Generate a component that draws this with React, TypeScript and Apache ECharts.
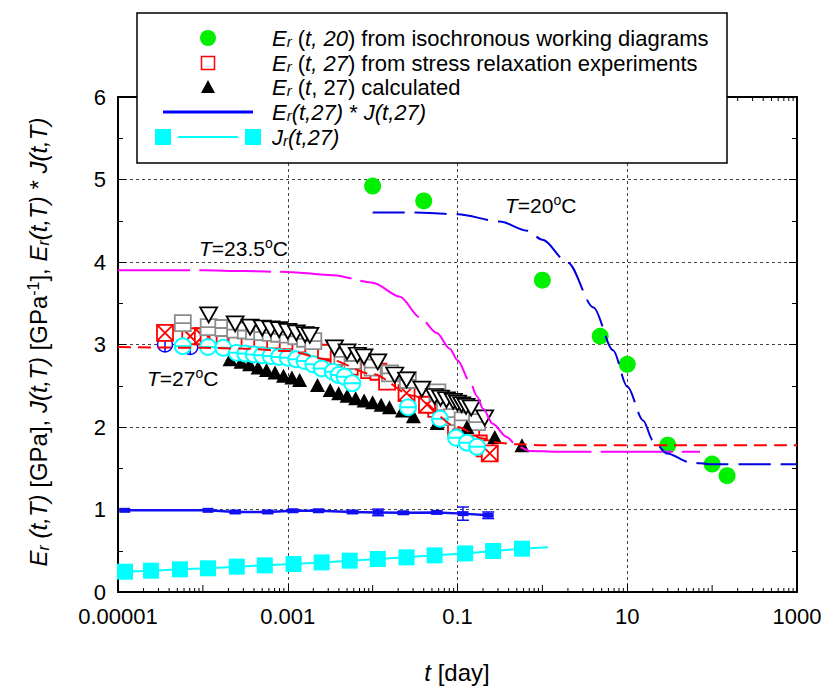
import React, { useEffect, useRef } from 'react';
import * as echarts from 'echarts';

const FF = '"Liberation Sans", Arial, Helvetica, sans-serif';

// axis tick labels
const xTickLabels = ['0.00001', '0.001', '0.1', '10', '1000'];
const yTickLabels = ['0', '1', '2', '3', '4', '5', '6'];

// E_r(t,20) from isochronous working diagrams  [t (day), GPa]
const er20Iso = [[0.01, 4.92], [0.04, 4.74], [1, 3.78], [4.8, 3.1], [10, 2.76], [30, 1.78], [100, 1.55], [150, 1.41]];

// model curves
const curve20 = [[0.01, 4.6], [0.03, 4.6], [0.1, 4.58], [0.316, 4.49], [0.66, 4.38], [1, 4.27], [2, 3.99], [4, 3.45], [6.8, 2.93], [10, 2.49], [15.4, 2.08], [20, 1.84], [29.4, 1.68], [55, 1.57], [94, 1.55], [1000, 1.55]];
const curve235 = [[1e-5, 3.9], [1e-4, 3.9], [3e-4, 3.89], [1e-3, 3.88], [3.4e-3, 3.84], [0.01, 3.75], [0.021, 3.58], [0.036, 3.33], [0.057, 3.14], [0.081, 2.95], [0.1, 2.81], [0.14, 2.55], [0.17, 2.37], [0.2, 2.22], [0.26, 2.04], [0.38, 1.88], [0.5, 1.77], [0.71, 1.71], [1.5, 1.7], [72, 1.7]];
const curve27 = [[1e-5, 2.97], [1e-4, 2.96], [3e-4, 2.95], [1e-3, 2.92], [3e-3, 2.82], [0.01, 2.64], [0.03, 2.38], [0.1, 2.0], [0.2, 1.86], [0.3, 1.81], [0.5, 1.79], [1, 1.78], [1000, 1.78]];

// stress relaxation experiments (several specimens)
const blueHidden = [[3.58e-5, 3.0], [7.1e-5, 2.97]];
const redSq = [[1.58e-4, 3.08], [2.5e-4, 3.07], [3.55e-4, 3.07], [5.0e-4, 3.06], [7.1e-4, 3.05], [1.0e-3, 3.04], [1.41e-3, 3.0], [2.0e-3, 2.95], [2.82e-3, 2.9], [3.98e-3, 2.82], [5.37e-3, 2.73], [9.1e-3, 2.69], [0.0117, 2.67], [0.0148, 2.55], [0.0562, 2.22], [0.0692, 2.18], [0.126, 1.95], [0.145, 1.88], [0.178, 1.8], [0.209, 1.74]];
const redX = [[3.58e-5, 3.14], [7.1e-5, 3.1], [1.0e-4, 3.1], [1.17e-4, 3.09], [0.0251, 2.41], [0.0437, 2.27], [0.096, 2.0], [0.24, 1.68]];
const graySq = [[5.8e-5, 3.26], [1.17e-4, 3.21], [1.74e-4, 3.2], [2.4e-4, 3.18], [3.2e-4, 3.17], [4.0e-4, 3.16], [5.0e-4, 3.15], [6.3e-4, 3.14], [7.9e-4, 3.13], [1.0e-3, 3.12], [1.26e-3, 3.1], [1.6e-3, 3.07], [2.0e-3, 3.04], [4.4e-3, 2.85], [5.8e-3, 2.8], [0.01, 2.72], [0.016, 2.65], [0.026, 2.57], [0.058, 2.42], [0.071, 2.3], [0.087, 2.12], [0.115, 2.08], [0.17, 2.06]];
const triDown = [[1.17e-4, 3.36], [2.4e-4, 3.25], [3.6e-4, 3.21], [5.0e-4, 3.2], [6.3e-4, 3.19], [7.9e-4, 3.18], [1.0e-3, 3.16], [1.26e-3, 3.14], [1.6e-3, 3.12], [1.82e-3, 3.11], [3.55e-3, 2.96], [5.0e-3, 2.91], [6.6e-3, 2.87], [7.9e-3, 2.85], [0.0115, 2.79], [0.0182, 2.63], [0.0251, 2.57], [0.038, 2.46], [0.0537, 2.37], [0.0631, 2.35], [0.0741, 2.33], [0.0891, 2.31], [0.1, 2.29], [0.112, 2.27], [0.126, 2.25], [0.145, 2.23], [0.209, 2.11]];
const cyanCirc = [[5.8e-5, 2.98], [1.15e-4, 2.97], [1.74e-4, 2.96], [2.5e-4, 2.9], [3.16e-4, 2.89], [3.98e-4, 2.88], [5.0e-4, 2.87], [6.3e-4, 2.86], [7.9e-4, 2.85], [1.0e-3, 2.84], [1.26e-3, 2.82], [1.58e-3, 2.8], [2.0e-3, 2.76], [2.51e-3, 2.71], [3.39e-3, 2.67], [3.98e-3, 2.63], [4.68e-3, 2.61], [5.75e-3, 2.53], [0.0261, 2.24], [0.0622, 2.1], [0.096, 1.87], [0.129, 1.81], [0.17, 1.76]];
// E_r(t,27) calculated
const calc27 = [[2.09e-4, 2.82], [2.82e-4, 2.79], [3.55e-4, 2.76], [4.47e-4, 2.72], [5.62e-4, 2.69], [7.08e-4, 2.66], [8.91e-4, 2.62], [1.12e-3, 2.6], [1.38e-3, 2.57], [2.24e-3, 2.51], [3.16e-3, 2.45], [3.98e-3, 2.41], [5.01e-3, 2.38], [6.31e-3, 2.35], [7.94e-3, 2.32], [0.01, 2.3], [0.0126, 2.27], [0.0158, 2.24], [0.0224, 2.2], [0.0302, 2.13], [0.0575, 2.05], [0.129, 2.0], [0.275, 1.88], [0.575, 1.78]];

// E_r(t,27) * J(t,27): [t, value, error]
const erJ = [[1.2e-5, 0.99, 0], [1.15e-4, 0.99, 0], [2.4e-4, 0.97, 0.01], [5.8e-4, 0.97, 0.01], [1.15e-3, 0.985, 0.01], [2.3e-3, 0.985, 0.01], [5.8e-3, 0.97, 0.015], [0.0116, 0.965, 0.04], [0.023, 0.96, 0.015], [0.057, 0.965, 0.015], [0.116, 0.95, 0.08], [0.23, 0.93, 0.04]];

// J_r(t,27)
const jr27 = [[1.21e-5, 0.246], [2.45e-5, 0.258], [5.37e-5, 0.275], [1.15e-4, 0.287], [2.51e-4, 0.307], [5.37e-4, 0.323], [1.17e-3, 0.339], [2.51e-3, 0.359], [5.37e-3, 0.38], [0.0115, 0.4], [0.0251, 0.42], [0.0537, 0.444], [0.123, 0.468], [0.263, 0.497], [0.575, 0.525]];
const jr27Fit = [...jr27, [1.16, 0.542]];

// minor log ticks on the time axis (decoration)
const minorFactors = [2, 3, 4, 5, 6, 7, 8, 9];
const decades = [-5, -4, -3, -2, -1, 0, 1, 2];
const oddDecades = [-4, -2, 0, 2];

const SYM_XSQ = 'path://M0 0H10V10H0Z M0 0L10 10 M10 0L0 10';
const SYM_HSQ = 'path://M0 0H10V10H0Z M0 5H10';
const SYM_SQ = 'path://M0 0H10V10H0Z';
const SYM_HCIRC = 'path://M0 5A5 5 0 1 1 10 5A5 5 0 1 1 0 5Z M0 5H10';
const SYM_VCIRC = 'path://M0 5A5 5 0 1 1 10 5A5 5 0 1 1 0 5Z M5 0V10';
const SYM_TRIDOWN = 'path://M0 0H10L5 9Z';

const C_GREEN = '#00f000';
const C_CYAN = '#00ffff';
const C_BLUE = '#0000ff';
const C_RED = '#ff0000';
const C_MAG = '#ff00ff';

const richBase = (size: number, lh: number) => ({
  n: { fontSize: size, fontFamily: FF, fill: '#000', color: '#000', lineHeight: lh },
  i: { fontSize: size, fontFamily: FF, fontStyle: 'italic', fill: '#000', color: '#000', lineHeight: lh },
  s: { fontSize: Math.round(size * 0.68), fontFamily: FF, fontStyle: 'italic', fill: '#000', color: '#000', lineHeight: Math.round(size * 0.55), verticalAlign: 'bottom' },
  p: { fontSize: Math.round(size * 0.65), fontFamily: FF, fill: '#000', color: '#000', lineHeight: Math.round(size * 0.55), verticalAlign: 'top' },
});

function buildOption() {
  const minorTicks: number[][] = [];
  decades.forEach((d) => minorFactors.forEach((k) => minorTicks.push([k * Math.pow(10, d), 4])));
  oddDecades.forEach((d) => minorTicks.push([Math.pow(10, d), 7]));

  const xAxisCommon = {
    type: 'log',
    logBase: 10,
    min: 1e-5,
    max: 1000,
    interval: 2,
    axisLine: { show: true, onZero: false, lineStyle: { color: '#000', width: 2 } },
    axisTick: { show: true, inside: true, length: 8, lineStyle: { color: '#000', width: 1 } },
  };
  const yAxisCommon = {
    type: 'value',
    min: 0,
    max: 6,
    interval: 1,
    axisLine: { show: true, onZero: false, lineStyle: { color: '#000', width: 2 } },
    axisTick: { show: true, inside: true, length: 8, lineStyle: { color: '#000', width: 1 } },
    minorTick: { show: true, splitNumber: 2, length: 5, lineStyle: { color: '#000', width: 1 } },
  };

  const lg = 208; // legend marker column
  const legendTextX = 272;
  const rows = [38, 63, 87, 112, 137];
  const lr = richBase(22, 22);
  const ar = richBase(24, 26);
  const yr = richBase(24, 26);
  const tr = richBase(21, 24);

  const sc = (extra: any) => ({ type: 'scatter', ...extra });

  return {
    animation: false,
    backgroundColor: '#fff',
    grid: { left: 118, right: 33, top: 97, bottom: 99, containLabel: false },
    xAxis: [
      {
        ...xAxisCommon,
        position: 'bottom',
        axisLabel: {
          fontSize: 22, lineHeight: 18, fontFamily: FF, color: '#000', margin: 15,
          formatter: (v: number) => xTickLabels[Math.round((Math.log10(v) + 5) / 2)] ?? '',
        },
        splitLine: { show: true, lineStyle: { color: '#444', width: 1, type: [3, 3] } },
      },
      {
        ...xAxisCommon,
        position: 'top',
        axisLabel: { show: false },
        splitLine: { show: false },
      },
    ],
    yAxis: [
      {
        ...yAxisCommon,
        position: 'left',
        axisLabel: {
          fontSize: 22, lineHeight: 18, fontFamily: FF, color: '#000', margin: 12,
          formatter: (v: number) => yTickLabels[Math.round(v)] ?? '',
        },
        splitLine: { show: true, lineStyle: { color: '#444', width: 1, type: [3, 3] } },
      },
      {
        ...yAxisCommon,
        position: 'right',
        axisLabel: { show: false },
        splitLine: { show: false },
      },
    ],
    series: [
      {
        type: 'custom', name: 'minorTicks', xAxisIndex: 0, yAxisIndex: 0, silent: true,
        data: minorTicks,
        renderItem: (params: any, api: any) => {
          const x = api.coord([api.value(0), 1])[0];
          const cs = params.coordSys;
          const len = api.value(1);
          const yb = cs.y + cs.height;
          return {
            type: 'group',
            children: [
              { type: 'line', shape: { x1: x, y1: yb, x2: x, y2: yb - len }, style: { stroke: '#000', lineWidth: 1 } },
              { type: 'line', shape: { x1: x, y1: cs.y, x2: x, y2: cs.y + len }, style: { stroke: '#000', lineWidth: 1 } },
            ],
          };
        },
      },
      {
        type: 'line', name: 'T27', data: curve27, symbol: 'none', smooth: 0.3, smoothMonotone: 'x',
        lineStyle: { color: C_RED, width: 2, type: [13, 7] },
      },
      {
        type: 'line', name: 'T23.5', data: curve235, symbol: 'none', smooth: 0.3, smoothMonotone: 'x',
        lineStyle: { color: C_MAG, width: 2, type: [72, 9] },
      },
      {
        type: 'line', name: 'T20', data: curve20, symbol: 'none', smooth: 0.3, smoothMonotone: 'x',
        lineStyle: { color: '#0000e0', width: 2, type: [32, 10] },
      },
      sc({ name: 'blueHidden', data: blueHidden, symbol: SYM_VCIRC, symbolSize: 15, itemStyle: { color: '#fff', borderColor: C_BLUE, borderWidth: 1.5, opacity: 1 } }),
      sc({ name: 'redSq', data: redSq, symbol: SYM_SQ, symbolSize: 16, itemStyle: { color: '#fff', borderColor: C_RED, borderWidth: 1.8, opacity: 1 } }),
      sc({ name: 'redX', data: redX, symbol: SYM_XSQ, symbolSize: 16, itemStyle: { color: '#fff', borderColor: C_RED, borderWidth: 1.8, opacity: 1 } }),
      sc({ name: 'graySq', data: graySq, symbol: SYM_HSQ, symbolSize: 16, itemStyle: { color: '#fff', borderColor: '#8c8c8c', borderWidth: 1.8, opacity: 1 } }),
      sc({ name: 'triDown', data: triDown, symbol: SYM_TRIDOWN, symbolSize: [17, 15], itemStyle: { color: '#fff', borderColor: '#000', borderWidth: 1.8, opacity: 1 } }),
      sc({ name: 'calc27', data: calc27, symbol: 'triangle', symbolSize: [15, 14], itemStyle: { color: '#000', opacity: 1 } }),
      sc({ name: 'cyanCirc', data: cyanCirc, symbol: SYM_HCIRC, symbolSize: 16, itemStyle: { color: '#fff', borderColor: C_CYAN, borderWidth: 2, opacity: 1 } }),
      {
        type: 'line', name: 'ErJ', data: erJ.map((d) => [d[0], d[1]]), symbol: 'rect', symbolSize: [11, 5],
        itemStyle: { color: '#1010f0', opacity: 1 }, lineStyle: { color: '#1010f0', width: 2.5 },
      },
      {
        type: 'custom', name: 'ErJerr', data: erJ.filter((d) => d[2] > 0),
        renderItem: (params: any, api: any) => {
          const t = api.value(0), v = api.value(1), e = api.value(2);
          const top = api.coord([t, v + e]);
          const bot = api.coord([t, v - e]);
          const w = 6;
          const st = { stroke: '#1010f0', lineWidth: 1.5 };
          return {
            type: 'group',
            children: [
              { type: 'line', shape: { x1: top[0], y1: top[1], x2: bot[0], y2: bot[1] }, style: st },
              { type: 'line', shape: { x1: top[0] - w, y1: top[1], x2: top[0] + w, y2: top[1] }, style: st },
              { type: 'line', shape: { x1: bot[0] - w, y1: bot[1], x2: bot[0] + w, y2: bot[1] }, style: st },
            ],
          };
        },
      },
      {
        type: 'line', name: 'JrFit', data: jr27Fit, symbol: 'none',
        lineStyle: { color: C_CYAN, width: 2 },
      },
      sc({ name: 'Jr', data: jr27, symbol: 'rect', symbolSize: 16, itemStyle: { color: C_CYAN, opacity: 1 } }),
      sc({ name: 'Er20', data: er20Iso, symbol: 'circle', symbolSize: 17, itemStyle: { color: C_GREEN, opacity: 1 } }),
    ],
    graphic: [
      // legend box
      { type: 'rect', z: 100, shape: { x: 137, y: 13, width: 590, height: 150 }, style: { fill: '#fff', stroke: '#000', lineWidth: 1.5 } },
      { type: 'circle', z: 101, shape: { cx: lg, cy: rows[0], r: 8 }, style: { fill: C_GREEN } },
      { type: 'rect', z: 101, shape: { x: lg - 6.5, y: rows[1] - 6.5, width: 13, height: 13 }, style: { fill: '#fff', stroke: C_RED, lineWidth: 1.5 } },
      { type: 'polygon', z: 101, shape: { points: [[lg - 7, rows[2] + 6], [lg + 7, rows[2] + 6], [lg, rows[2] - 7]] }, style: { fill: '#000' } },
      { type: 'line', z: 101, shape: { x1: 163, y1: rows[3], x2: 253, y2: rows[3] }, style: { stroke: C_BLUE, lineWidth: 3 } },
      { type: 'rect', z: 101, shape: { x: 155, y: rows[4] - 8, width: 16, height: 16 }, style: { fill: C_CYAN } },
      { type: 'rect', z: 101, shape: { x: 245, y: rows[4] - 8, width: 16, height: 16 }, style: { fill: C_CYAN } },
      { type: 'line', z: 101, shape: { x1: 178, y1: rows[4], x2: 238, y2: rows[4] }, style: { stroke: C_CYAN, lineWidth: 2 } },
      {
        type: 'text', z: 101, x: legendTextX, y: rows[0],
        style: { text: '{i|E}{s|r}{n| (}{i|t, 20}{n|) from isochronous working diagrams}', rich: lr, align: 'left', verticalAlign: 'middle' },
      },
      {
        type: 'text', z: 101, x: legendTextX, y: rows[1],
        style: { text: '{i|E}{s|r}{n| (}{i|t, 27}{n|) from stress relaxation experiments}', rich: lr, align: 'left', verticalAlign: 'middle' },
      },
      {
        type: 'text', z: 101, x: legendTextX, y: rows[2],
        style: { text: '{i|E}{s|r}{n| (}{i|t}{n|, 27) calculated}', rich: lr, align: 'left', verticalAlign: 'middle' },
      },
      {
        type: 'text', z: 101, x: legendTextX, y: rows[3],
        style: { text: '{i|E}{s|r}{i|(t,27)}{n| * }{i|J(t,27)}', rich: lr, align: 'left', verticalAlign: 'middle' },
      },
      {
        type: 'text', z: 101, x: legendTextX, y: rows[4],
        style: { text: '{i|J}{s|r}{i|(t,27)}', rich: lr, align: 'left', verticalAlign: 'middle' },
      },
      // temperature annotations
      {
        type: 'text', z: 50, x: 199, y: 248,
        style: { text: '{i|T}{n|=23.5}{p|o}{n|C}', rich: tr, align: 'left', verticalAlign: 'middle' },
      },
      {
        type: 'text', z: 50, x: 147, y: 378,
        style: { text: '{i|T}{n|=27}{p|o}{n|C}', rich: tr, align: 'left', verticalAlign: 'middle' },
      },
      {
        type: 'text', z: 50, x: 505, y: 205,
        style: { text: '{i|T}{n|=20}{p|o}{n|C}', rich: tr, align: 'left', verticalAlign: 'middle' },
      },
      // axis titles
      {
        type: 'text', z: 50, x: 457, y: 672,
        style: { text: '{i|t}{n| [day]}', rich: ar, align: 'center', verticalAlign: 'middle' },
      },
      {
        type: 'text', z: 50, x: 38, y: 342, rotation: Math.PI / 2,
        style: {
          text: '{i|E}{s|r}{i| (t,T)}{n| [GPa], }{i|J(t,T)}{n| [GPa}{p|-1}{n|], }{i|E}{s|r}{i|(t,T)}{n| * }{i|J(t,T)}',
          rich: yr, align: 'center', verticalAlign: 'middle',
        },
      },
    ],
  };
}

export default function App() {
  const ref = useRef<HTMLDivElement>(null);
  useEffect(() => {
    if (!ref.current) return;
    const chart = echarts.init(ref.current, null, { renderer: 'svg' });
    chart.setOption(buildOption() as any);
    return () => chart.dispose();
  }, []);
  return <div ref={ref} style={{ position: 'fixed', left: 0, top: 0, width: 830, height: 691, background: '#fff' }} />;
}
